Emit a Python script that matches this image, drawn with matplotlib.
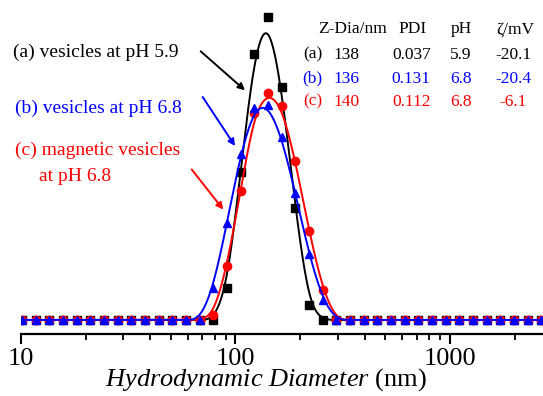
import numpy as np
import matplotlib
matplotlib.use('Agg')
import matplotlib.pyplot as plt

plt.rcParams['font.family'] = 'Liberation Serif'
plt.rcParams['mathtext.fontset'] = 'custom'
plt.rcParams['mathtext.rm'] = 'Liberation Serif'
plt.rcParams['mathtext.it'] = 'Liberation Serif:italic'

# size bins (nm) and intensity distributions (%)
size_nm = [10.1, 11.7, 13.54, 15.69, 18.17, 21.04, 24.36, 28.21, 32.67, 37.84,
           43.82, 50.75, 58.77, 68.06, 78.82, 91.28, 105.7, 122.4, 141.8, 164.2,
           190.1, 220.2, 255.0, 295.3, 342.0, 396.1, 458.7, 531.2, 615.1, 712.4,
           825.0, 955.4, 1106, 1281, 1484, 1718, 1990, 2305, 2669]
int_a = [0, 0, 0, 0, 0, 0, 0, 0, 0, 0, 0, 0, 0, 0, 0, 2.9, 13.3, 23.9, 27.2, 20.9,
         10.0, 1.3, 0, 0, 0, 0, 0, 0, 0, 0, 0, 0, 0, 0, 0, 0, 0, 0, 0]
int_b = [0, 0, 0, 0, 0, 0, 0, 0, 0, 0, 0, 0, 0, 0, 2.9, 8.7, 14.9, 19.0, 19.3, 16.4,
         11.4, 5.9, 1.8, 0, 0, 0, 0, 0, 0, 0, 0, 0, 0, 0, 0, 0, 0, 0, 0]
int_c = [0, 0, 0, 0, 0, 0, 0, 0, 0, 0, 0, 0, 0, 0, 0.4, 4.8, 11.6, 18.6, 20.4, 19.2,
         14.3, 8.0, 2.7, 0, 0, 0, 0, 0, 0, 0, 0, 0, 0, 0, 0, 0, 0, 0, 0]

labels = ['(a)', '(b)', '(c)']
z_dia = ['138', '136', '140']
pdi = ['0.037', '0.131', '0.112']
ph = ['5.9', '6.8', '6.8']
zeta = ['-20.1', '-20.4', '-6.1']
colors = ['black', 'blue', 'red']


def bspline(x, y, n=20):
    # uniform cubic B-spline with the points as control points (log x)
    px = np.log10(np.asarray(x, float))
    py = np.asarray(y, float)
    px = np.concatenate([[px[0]], px, [px[-1]]])
    py = np.concatenate([[py[0]], py, [py[-1]]])
    t = np.linspace(0, 1, n, endpoint=False)
    b0 = (1 - t) ** 3 / 6
    b1 = (3 * t ** 3 - 6 * t ** 2 + 4) / 6
    b2 = (-3 * t ** 3 + 3 * t ** 2 + 3 * t + 1) / 6
    b3 = t ** 3 / 6
    cx, cy = [], []
    for i in range(len(px) - 3):
        cx.append(b0 * px[i] + b1 * px[i + 1] + b2 * px[i + 2] + b3 * px[i + 3])
        cy.append(b0 * py[i] + b1 * py[i + 1] + b2 * py[i + 2] + b3 * py[i + 3])
    return 10 ** np.concatenate(cx), np.concatenate(cy)


fig = plt.figure(figsize=(5.43, 3.96), dpi=100)
ax = fig.add_axes([21 / 543, 62 / 396, 522 / 543, 334 / 396])

xmax = 2714
series = [(int_a, 'black', 's', 5.3), (int_c, 'red', 'o', 6), (int_b, 'blue', '^', 6)]
for yy, col, mk, ms in series:
    sx, sy = bspline(size_nm, yy)
    ax.plot(sx, sy, '-', color=col, lw=1.4)
    ax.plot(size_nm, yy, mk, color=col, ms=ms, ls='none')

ax.set_xscale('log')
ax.set_xlim(10, xmax)
ax.set_ylim(-1.26, 28.7)
for s in ['top', 'right', 'left']:
    ax.spines[s].set_visible(False)
ax.spines['bottom'].set_linewidth(1.6)
ax.set_yticks([])
ax.tick_params(axis='x', which='major', direction='out', length=7, width=1.5,
               labelsize=19, pad=3)
ax.tick_params(axis='x', which='minor', direction='out', length=4, width=1.3)
ax.set_xticks([10, 100, 1000])
ax.set_xticklabels(['10', '100', '1000'])
ax.set_xlabel(r'$\mathit{Hydrodynamic\ Diameter}$ (nm)', fontsize=19)
ax.xaxis.set_label_coords(0.47, -0.097)

# annotations
fs = 14
ax.text(9.15, 24.0, '(a) vesicles at pH 5.9', color='black', fontsize=fs,
        va='center', ha='left')
ax.text(9.37, 19.0, '(b) vesicles at pH 6.8', color='blue', fontsize=fs,
        va='center', ha='left')
ax.text(9.37, 15.2, '(c) magnetic vesicles', color='red', fontsize=fs,
        va='center', ha='left')
ax.text(12.17, 12.85, 'at pH 6.8', color='red', fontsize=fs,
        va='center', ha='left')
arrows = [((68.8, 24.1), (110.7, 20.6), 'black'),
          ((70.3, 20.0), (99.5, 15.6), 'blue'),
          ((62.5, 13.5), (87.7, 9.9), 'red')]
for tail, head, col in arrows:
    ax.annotate('', xy=head, xytext=tail,
                arrowprops=dict(arrowstyle='-|>', color=col, lw=1.4,
                                mutation_scale=10, shrinkA=0, shrinkB=0))

# parameter table
hy = 0.913
ax.text(0.635, hy, 'Z-Dia/nm', transform=ax.transAxes, ha='center', va='center', fontsize=12.5)
ax.text(0.75, hy, 'PDI', transform=ax.transAxes, ha='center', va='center', fontsize=12.5)
ax.text(0.843, hy, 'pH', transform=ax.transAxes, ha='center', va='center', fontsize=12.5)
ax.text(0.946, hy, 'ζ/mV', transform=ax.transAxes, ha='center', va='center', fontsize=12.5)
row_y = [0.836, 0.764, 0.696]
for i in range(3):
    y = row_y[i]
    c = colors[i]
    ax.text(0.559, y, labels[i], transform=ax.transAxes, ha='center', va='center', color=c, fontsize=12.5)
    ax.text(0.6236, y, z_dia[i], transform=ax.transAxes, ha='center', va='center', color=c, fontsize=12.5)
    ax.text(0.7477, y, pdi[i], transform=ax.transAxes, ha='center', va='center', color=c, fontsize=12.5)
    ax.text(0.8425, y, ph[i], transform=ax.transAxes, ha='center', va='center', color=c, fontsize=12.5)
    ax.text(0.9425, y, zeta[i], transform=ax.transAxes, ha='center', va='center', color=c, fontsize=12.5)

fig.savefig('out.png', dpi=100)
